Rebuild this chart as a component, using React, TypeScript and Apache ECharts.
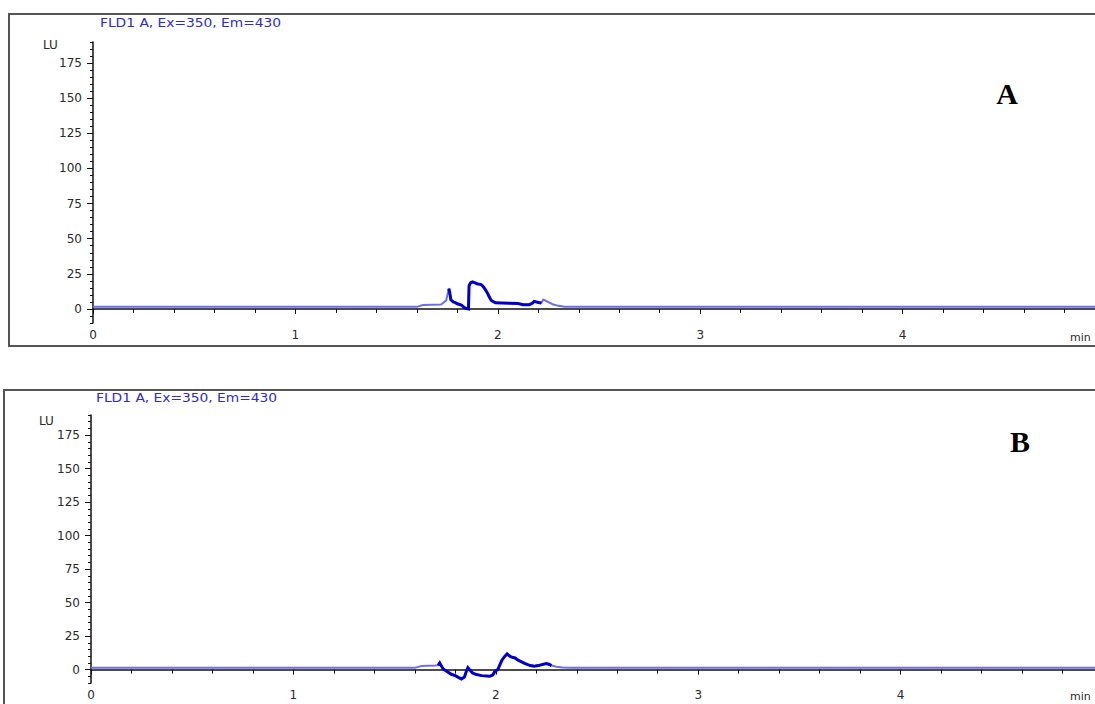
import React, { useEffect, useRef } from "react";
import * as echarts from "echarts";

// Panel A trace (time in min, signal in LU)
const timeA = [0, 1.6, 1.63, 1.72, 1.745, 1.758, 1.762, 1.768, 1.78, 1.79, 1.8, 1.82, 1.835, 1.845, 1.855, 1.858, 1.865, 1.875, 1.888, 1.9, 1.915, 1.925, 1.935, 1.95, 1.96, 1.968, 1.98, 1.99, 2.02, 2.06, 2.1, 2.125, 2.155, 2.17, 2.18, 2.19, 2.2, 2.215, 2.225, 2.235, 2.25, 2.27, 2.3, 2.33, 5.0];
const signalA = [1.5, 1.5, 2.8, 3.2, 6, 14.5, 12, 6.5, 5, 4.5, 3.7, 2.8, 1, 0.3, 0, 16.5, 18.5, 19.3, 18.6, 17.8, 17.5, 16.5, 14.5, 11, 8, 6, 5, 4.4, 4.2, 4.0, 3.8, 3.0, 3.0, 4.0, 5.4, 5.0, 4.6, 4.2, 6.8, 6, 4.8, 3.4, 2.2, 1.5, 1.5];
const boldA = [1.758, 2.215];

// Panel B trace
const timeB = [0, 1.6, 1.63, 1.7, 1.715, 1.723, 1.73, 1.74, 1.757, 1.78, 1.8, 1.815, 1.83, 1.845, 1.855, 1.862, 1.87, 1.885, 1.9, 1.93, 1.97, 1.985, 1.995, 2.01, 2.02, 2.03, 2.045, 2.056, 2.065, 2.075, 2.095, 2.11, 2.125, 2.145, 2.17, 2.19, 2.21, 2.235, 2.25, 2.265, 2.275, 2.3, 2.33, 2.38, 5.0];
const signalB = [1.3, 1.3, 2.6, 3.0, 3.2, 5, 3, 0.5, -1.2, -3.5, -4.5, -5.8, -7, -5.5, -1, 1.5, 0, -2.5, -3.5, -4.5, -5, -4, -1.5, 0, 3.5, 7, 10, 11.7, 10.5, 9.5, 8.7, 7, 6, 4.5, 3, 2.6, 3, 4, 4.5, 3.8, 3, 2.2, 1.6, 1.3, 1.3];
const boldB = [1.715, 2.275];

const yMajorTicks = [0, 25, 50, 75, 100, 125, 150, 175];
const xTicks = [0, 1, 2, 3, 4, 5];
const titleText = "FLD1 A, Ex=350, Em=430";
const panelLabels = ["A", "B"];

const pairs = (t: number[], v: number[]) => t.map((x, i) => [x, v[i]]);
const boldPart = (t: number[], v: number[], r: number[]) =>
  pairs(t, v).filter((p) => p[0] >= r[0] && p[0] <= r[1]);

const labelFont = { fontFamily: "DejaVu Sans", fontSize: 12, color: "#2a2a2a" };

function makeX(grid: number) {
  return {
    type: "value",
    gridIndex: grid,
    min: xTicks[0],
    max: xTicks[xTicks.length - 1],
    interval: 1,
    axisLine: { show: true, lineStyle: { color: "#111", width: 1.5 } },
    axisTick: { show: true, length: 5, lineStyle: { color: "#111" } },
    minorTick: { show: true, splitNumber: 5, length: 4, lineStyle: { color: "#111" } },
    axisLabel: { ...labelFont, margin: 6, showMaxLabel: false },
    splitLine: { show: false },
  };
}

function makeYMajor(grid: number) {
  return {
    type: "value",
    gridIndex: grid,
    position: "left",
    min: -10,
    max: 190,
    axisLine: { show: true, lineStyle: { color: "#111", width: 1.5 } },
    axisTick: { show: true, length: 6, customValues: yMajorTicks, lineStyle: { color: "#111" } },
    axisLabel: { ...labelFont, margin: 11, customValues: yMajorTicks },
    splitLine: { show: false },
  };
}

function makeYMinor(grid: number) {
  return {
    type: "value",
    gridIndex: grid,
    position: "left",
    offset: 0,
    min: -10,
    max: 190,
    interval: 5,
    axisLine: { show: false },
    axisTick: { show: true, length: 3, lineStyle: { color: "#111" } },
    axisLabel: { show: false },
    splitLine: { show: false },
  };
}

export default function App() {
  const ref = useRef<HTMLDivElement>(null);
  useEffect(() => {
    if (!ref.current) return;
    const chart = echarts.init(ref.current, null, { renderer: "svg" });
    const thin = { color: "#6c6cf0", width: 2 };
    const thick = { color: "#0000c8", width: 3, join: "miter" };
    chart.setOption({
      animation: false,
      backgroundColor: "#fff",
      grid: [
        { left: 93, top: 42, width: 1012, height: 281 },
        { left: 91, top: 415, width: 1012, height: 268 },
      ],
      xAxis: [makeX(0), makeX(1)],
      yAxis: [makeYMajor(0), makeYMinor(0), makeYMajor(1), makeYMinor(1)],
      series: [
        { type: "line", xAxisIndex: 0, yAxisIndex: 0, data: pairs(timeA, signalA), showSymbol: false, lineStyle: thin, itemStyle: { color: thin.color } },
        { type: "line", xAxisIndex: 0, yAxisIndex: 0, data: boldPart(timeA, signalA, boldA), showSymbol: false, lineStyle: thick, itemStyle: { color: thick.color } },
        { type: "line", xAxisIndex: 1, yAxisIndex: 2, data: pairs(timeB, signalB), showSymbol: false, lineStyle: thin, itemStyle: { color: thin.color } },
        { type: "line", xAxisIndex: 1, yAxisIndex: 2, data: boldPart(timeB, signalB, boldB), showSymbol: false, lineStyle: thick, itemStyle: { color: thick.color } },
      ],
      graphic: [
        { type: "rect", shape: { x: 9, y: 14, width: 1200, height: 332 }, style: { fill: "none", stroke: "#555", lineWidth: 2 }, z: 0 },
        { type: "rect", shape: { x: 4, y: 390, width: 1200, height: 400 }, style: { fill: "none", stroke: "#555", lineWidth: 2 }, z: 0 },
        { type: "text", x: 100, y: 17, scaleX: 1.15, style: { text: titleText, fontFamily: "DejaVu Sans", fontSize: 12, fill: "#2a2ad8" } },
        { type: "text", x: 96, y: 392, scaleX: 1.15, style: { text: titleText, fontFamily: "DejaVu Sans", fontSize: 12, fill: "#2a2ad8" } },
        { type: "text", x: 43, y: 39, style: { text: "LU", fontFamily: "DejaVu Sans", fontSize: 12, fill: "#2a2a2a" } },
        { type: "text", x: 39, y: 415, style: { text: "LU", fontFamily: "DejaVu Sans", fontSize: 12, fill: "#2a2a2a" } },
        { type: "text", x: 1070, y: 332, style: { text: "min", fontFamily: "DejaVu Sans", fontSize: 11, fill: "#2a2a2a" } },
        { type: "text", x: 1070, y: 691, style: { text: "min", fontFamily: "DejaVu Sans", fontSize: 11, fill: "#2a2a2a" } },
        { type: "text", x: 1007, y: 93, style: { text: panelLabels[0], fontFamily: "Liberation Serif", fontWeight: "bold", fontSize: 30, fill: "#000", align: "center", verticalAlign: "middle" } },
        { type: "text", x: 1020, y: 441, style: { text: panelLabels[1], fontFamily: "Liberation Serif", fontWeight: "bold", fontSize: 30, fill: "#000", align: "center", verticalAlign: "middle" } },
      ],
    });
    return () => chart.dispose();
  }, []);
  return (
    <div style={{ position: "fixed", left: 0, top: 0, width: 1095, height: 704, overflow: "hidden", background: "#fff" }}>
      <div ref={ref} style={{ width: 1140, height: 704 }} />
    </div>
  );
}
